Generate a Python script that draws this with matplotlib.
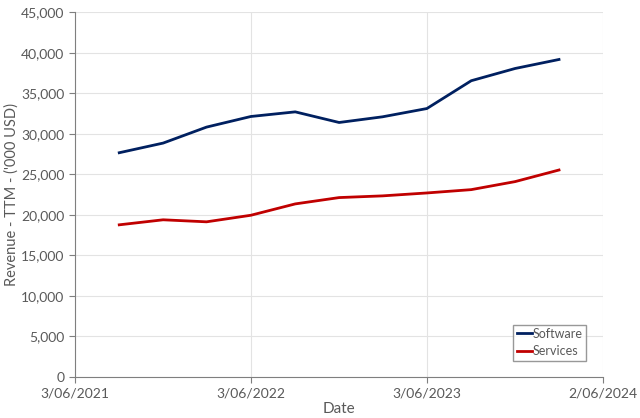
import numpy as np
import pandas as pd
import matplotlib
matplotlib.use('Agg')
import matplotlib.pyplot as plt
from matplotlib.ticker import FuncFormatter

plt.rcParams['font.family'] = ['Lato', 'DejaVu Sans']

dates = pd.to_datetime(['2021-09-03', '2021-12-03', '2022-03-03', '2022-06-03',
                        '2022-09-03', '2022-12-03', '2023-03-03', '2023-06-03',
                        '2023-09-03', '2023-12-03', '2024-03-03'])
software = [27660, 28850, 30820, 32130, 32700, 31390, 32090, 33110, 36540, 38050, 39160]
services = [18770, 19390, 19140, 19950, 21350, 22130, 22340, 22700, 23110, 24100, 25530]
xticks = pd.to_datetime(['2021-06-03', '2022-06-03', '2023-06-03', '2024-06-02'])
xlabels = ['3/06/2021', '3/06/2022', '3/06/2023', '2/06/2024']

grey = '#595959'
fig = plt.figure(figsize=(6.4, 4.18), dpi=100)
ax = fig.add_axes([0.117, 0.098, 0.825, 0.873])

ax.plot(dates, software, color='#002060', lw=2.0, label='Software')
ax.plot(dates, services, color='#C00000', lw=2.0, label='Services')

ax.set_xlim(xticks[0], xticks[-1])
ax.set_ylim(0, 45000)
ax.set_xticks(xticks)
ax.set_xticklabels(xlabels)
ax.set_yticks(np.arange(0, 45001, 5000))
ax.yaxis.set_major_formatter(FuncFormatter(lambda v, p: f'{int(v):,}'))

ax.grid(True, color='#E3E3E3', lw=0.8)
ax.set_axisbelow(True)
for s in ['top', 'right']:
    ax.spines[s].set_visible(False)
ax.spines['left'].set_color('#7F7F7F')
ax.spines['bottom'].set_color('#7F7F7F')
ax.tick_params(colors='#7F7F7F', labelcolor=grey, labelsize=10, length=4)

ax.set_xlabel('Date', color=grey, fontsize=11, labelpad=2)
# y label placed by hand so it sits close to the left edge like the original
fig.text(12 / 640, 0.535, "Revenue - TTM - ('000 USD)", color=grey, fontsize=10.5,
         rotation=90, ha='center', va='center')

leg = ax.legend(loc='lower right', bbox_to_anchor=(0.968, 0.045), fontsize=9,
                handlelength=1.2, handletextpad=0.1, fancybox=False,
                edgecolor='#7F7F7F', labelspacing=0.45, borderpad=0.25,
                borderaxespad=0)
for t in leg.get_texts():
    t.set_color(grey)
leg.get_frame().set_linewidth(1.0)

plt.savefig('out.png', dpi=100)
